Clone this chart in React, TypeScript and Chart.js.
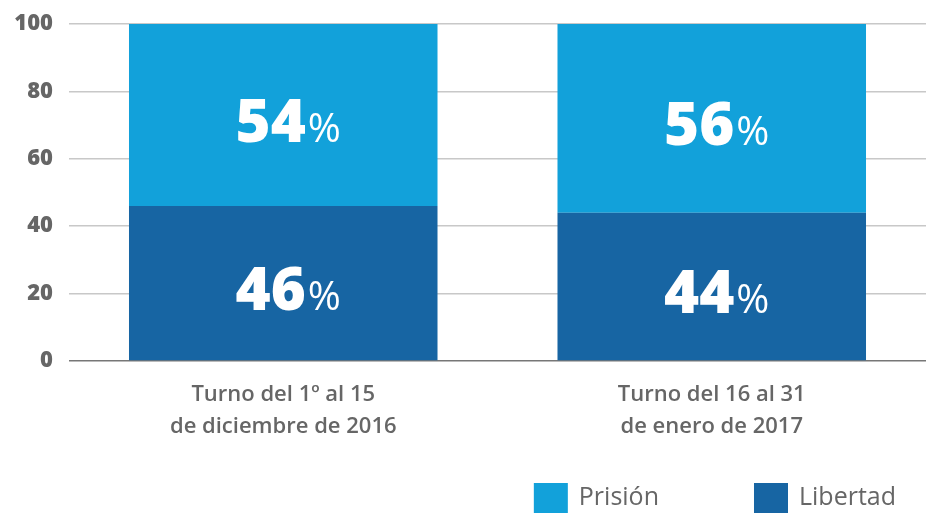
import React, { useEffect, useRef } from "react";
import { Chart, registerables } from "chart.js";

Chart.register(...registerables);

const categories: string[][] = [
  ["Turno del 1º al 15", "de diciembre de 2016"],
  ["Turno del 16 al 31", "de enero de 2017"],
];
const libertadValues = [46, 44];
const prisionValues = [54, 56];
const seriesNames = ["Libertad", "Prisión"];
const seriesColors = ["#1765a3", "#12a1da"];
const yTicks = [0, 20, 40, 60, 80, 100];

const FONT = "'Open Sans', Lato, sans-serif";

const labelPlugin = {
  id: "barLabels",
  afterDatasetsDraw(chart: any) {
    const ctx = chart.ctx;
    ctx.save();
    chart.data.datasets.forEach((ds: any, di: number) => {
      const meta = chart.getDatasetMeta(di);
      meta.data.forEach((el: any, i: number) => {
        const v = ds.data[i];
        const cy = (el.y + el.base) / 2 + 6;
        const num = String(v);
        ctx.font = `800 60px ${FONT}`;
        const wn = ctx.measureText(num).width;
        ctx.font = `400 40px ${FONT}`;
        const wp = ctx.measureText("%").width;
        const total = wn + 2 + wp;
        const x0 = el.x + 5 - total / 2;
        ctx.fillStyle = "#ffffff";
        ctx.textBaseline = "alphabetic";
        ctx.textAlign = "left";
        ctx.font = `800 60px ${FONT}`;
        ctx.fillText(num, x0, cy + 21);
        ctx.font = `400 40px ${FONT}`;
        ctx.fillText("%", x0 + wn + 2, cy + 21);
      });
    });
    ctx.restore();
  },
};

const legendPlugin = {
  id: "customLegend",
  afterDraw(chart: any) {
    const ctx = chart.ctx;
    ctx.save();
    ctx.font = `400 25px ${FONT}`;
    const items = [
      { name: seriesNames[1], color: seriesColors[1] },
      { name: seriesNames[0], color: seriesColors[0] },
    ];
    const boxW = 34;
    const boxH = 30;
    const gapText = 11;
    const gapItem = 95;
    const widths = items.map((it) => boxW + gapText + ctx.measureText(it.name).width);
    const totalW = widths.reduce((a, b) => a + b, 0) + gapItem * (items.length - 1);
    let x = chart.width - 32 - totalW;
    const top = chart.height - boxH;
    items.forEach((it, i) => {
      ctx.fillStyle = it.color;
      ctx.fillRect(x, top, boxW, boxH);
      ctx.fillStyle = "#666666";
      ctx.textAlign = "left";
      ctx.textBaseline = "middle";
      ctx.fillText(it.name, x + boxW + gapText, top + boxH / 2);
      x += widths[i] + gapItem;
    });
    ctx.restore();
  },
};

export default function App() {
  const canvasRef = useRef<HTMLCanvasElement | null>(null);

  useEffect(() => {
    if (!canvasRef.current) return;
    const chart = new Chart(canvasRef.current, {
      type: "bar",
      data: {
        labels: categories,
        datasets: [
          {
            label: seriesNames[0],
            data: libertadValues,
            backgroundColor: seriesColors[0],
            categoryPercentage: 0.72,
            barPercentage: 1,
          },
          {
            label: seriesNames[1],
            data: prisionValues,
            backgroundColor: seriesColors[1],
            categoryPercentage: 0.72,
            barPercentage: 1,
          },
        ],
      },
      options: {
        animation: false,
        responsive: true,
        maintainAspectRatio: false,
        layout: { padding: { top: 24, right: 2, left: 0, bottom: 0 } },
        plugins: {
          legend: { display: false },
          tooltip: { enabled: false },
        },
        scales: {
          x: {
            stacked: true,
            grid: { display: false },
            border: { display: false },
            ticks: {
              color: "#666666",
              font: { family: FONT, size: 22, weight: 600, lineHeight: 1.45 },
              padding: 10,
            },
            afterFit(scale: any) {
              scale.height = 152;
              scale.paddingLeft = 0;
              scale.paddingRight = 0;
            },
          },
          y: {
            stacked: true,
            min: 0,
            max: 100,
            afterBuildTicks(scale: any) {
              scale.ticks = yTicks.map((v) => ({ value: v }));
            },
            ticks: {
              color: "#666666",
              font: { family: FONT, size: 22, weight: 800 },
              padding: 16,
            },
            grid: {
              drawTicks: false,
              lineWidth: 1.5,
              color: (c: any) => (c.tick && c.tick.value === 0 ? "#777777" : "#c8c8c8"),
            },
            border: { display: false },
            afterFit(scale: any) {
              scale.width = 69;
              scale.paddingTop = 0;
              scale.paddingBottom = 0;
            },
          },
        },
      },
      plugins: [labelPlugin, legendPlugin],
    });
    return () => chart.destroy();
  }, []);

  return (
    <div style={{ position: "fixed", left: 0, top: 0, width: 928, height: 513, background: "#fff" }}>
      <canvas ref={canvasRef} />
    </div>
  );
}
